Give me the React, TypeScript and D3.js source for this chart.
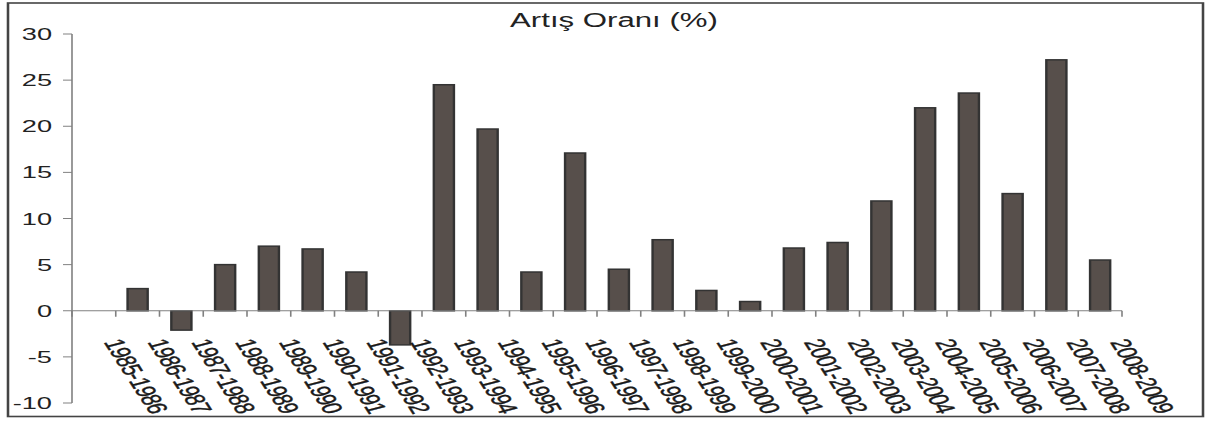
import React from "react";
import * as d3 from "d3";

const categories = [
  "1985-1986", "1986-1987", "1987-1988", "1988-1989", "1989-1990", "1990-1991",
  "1991-1992", "1992-1993", "1993-1994", "1994-1995", "1995-1996", "1996-1997",
  "1997-1998", "1998-1999", "1999-2000", "2000-2001", "2001-2002", "2002-2003",
  "2003-2004", "2004-2005", "2005-2006", "2006-2007", "2007-2008", "2008-2009",
];
const values: (number | null)[] = [
  null, 2.4, -2.1, 5.0, 7.0, 6.7, 4.2, -3.7, 24.5, 19.7, 4.2, 17.1,
  4.5, 7.7, 2.2, 1.0, 6.8, 7.4, 11.9, 22.0, 23.6, 12.7, 27.2, 5.5,
];
const yTicks = [-10, -5, 0, 5, 10, 15, 20, 25, 30];
const title = "Artış Oranı (%)";

const PX_W = 1210;
const PX_H = 427;
const SX = 1.6; // horizontal stretch of the whole picture
const W = PX_W / SX;

export default function App() {
  const x0 = 72 / SX;
  const x1 = 1122 / SX;
  const x = d3.scaleBand<string>().domain(categories).range([x0, x1]).paddingInner(0).paddingOuter(0);
  const y = d3.scaleLinear().domain([-10, 30]).range([403, 34]);
  const bw = x.bandwidth() * 0.46;
  const font = "'Liberation Sans', Arial, Helvetica, sans-serif";
  const boundaries = categories.map((c) => x(c)!).concat([x1]);

  return (
    <svg
      width={PX_W}
      height={PX_H}
      viewBox={`0 0 ${W} ${PX_H}`}
      preserveAspectRatio="none"
      style={{ position: "absolute", left: 0, top: 0, display: "block" }}
    >
      <rect x={0} y={0} width={W} height={PX_H} fill="#fff" />
      <rect x={8 / SX} y={3} width={(1203 - 8) / SX} height={413.5} fill="#fff" stroke="#444" strokeWidth={1.6} />
      <text x={614 / SX} y={27} textAnchor="middle" fontFamily={font} fontSize={19.5} fill="#222">
        {title}
      </text>
      {/* y axis */}
      <line x1={x0} x2={x0} y1={y(30)} y2={y(-10)} stroke="#808080" strokeWidth={1} />
      {yTicks.map((t) => (
        <g key={t}>
          <line x1={x0 - 9 / SX} x2={x0} y1={y(t)} y2={y(t)} stroke="#808080" strokeWidth={1} />
          <text x={52 / SX} y={y(t)} dy="0.36em" textAnchor="end" fontFamily={font} fontSize={17} fill="#222">
            {t}
          </text>
        </g>
      ))}
      {/* bars */}
      {categories.map((c, i) => {
        const v = values[i];
        if (v === null) return null;
        const cx = x(c)! + x.bandwidth() / 2;
        return (
          <rect
            key={c}
            x={cx - bw / 2}
            y={Math.min(y(v), y(0))}
            width={bw}
            height={Math.abs(y(v) - y(0))}
            fill="#574f4b"
            stroke="#333"
            strokeWidth={1.5}
          />
        );
      })}
      {/* x axis */}
      <line x1={x0} x2={x1} y1={y(0)} y2={y(0)} stroke="#808080" strokeWidth={1} />
      {boundaries.map((bx, i) => (
        <line key={i} x1={bx} x2={bx} y1={y(0)} y2={y(0) + 6} stroke="#808080" strokeWidth={1} />
      ))}
      {categories.map((c) => {
        const cx = x(c)! + x.bandwidth() / 2 + 6;
        return (
          <text
            key={c}
            transform={`translate(${cx},342) rotate(68)`}
            fontFamily={font}
            fontSize={17.5}
            letterSpacing={-0.6}
            fill="#1a1a1a"
            stroke="#1a1a1a"
            strokeWidth={0.35}
          >
            {c}
          </text>
        );
      })}
    </svg>
  );
}
